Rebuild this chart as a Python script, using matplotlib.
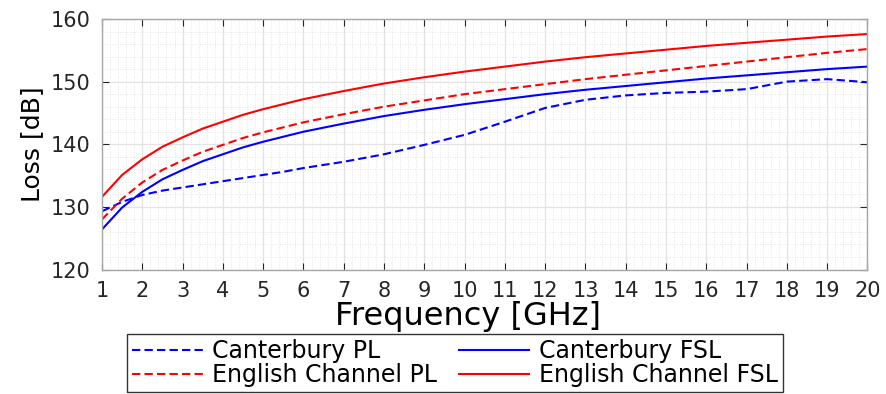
import matplotlib
matplotlib.use("Agg")
import matplotlib.pyplot as plt
from matplotlib.ticker import MultipleLocator

# frequencies in GHz
freq = [1, 1.5, 2, 2.5, 3, 3.5, 4, 4.5, 5, 5.5, 6, 7, 8, 9, 10,
        11, 12, 13, 14, 15, 16, 17, 18, 19, 20]

# losses in dB
canterbury_pl = [129.3, 130.8, 131.9, 132.6, 133.1, 133.6, 134.1, 134.6, 135.1,
                 135.6, 136.2, 137.2, 138.4, 139.9, 141.5, 143.6, 145.8, 147.1,
                 147.8, 148.2, 148.4, 148.8, 150.0, 150.4, 149.9]
canterbury_fsl = [126.4, 129.9, 132.4, 134.4, 135.9, 137.3, 138.4, 139.5, 140.4,
                  141.2, 142.0, 143.3, 144.5, 145.5, 146.4, 147.2, 148.0, 148.7,
                  149.3, 149.9, 150.5, 151.0, 151.5, 152.0, 152.4]
channel_pl = [128.0, 131.3, 133.9, 135.9, 137.4, 138.8, 139.9, 141.0, 141.9,
              142.7, 143.5, 144.8, 146.0, 147.0, 148.0, 148.8, 149.6, 150.4,
              151.1, 151.8, 152.5, 153.2, 153.9, 154.6, 155.2]
channel_fsl = [131.6, 135.1, 137.6, 139.6, 141.1, 142.5, 143.6, 144.7, 145.6,
               146.4, 147.2, 148.5, 149.7, 150.7, 151.6, 152.4, 153.2, 153.9,
               154.5, 155.1, 155.7, 156.2, 156.7, 157.2, 157.6]

labels = ["Canterbury PL", "English Channel PL",
          "Canterbury FSL", "English Channel FSL"]

plt.rcParams["font.family"] = ["DejaVu Sans"]

fig = plt.figure(figsize=(8.87, 3.94), dpi=100)
ax = fig.add_axes([102 / 887, 1 - 269.5 / 394, 765.5 / 887, 250.5 / 394])

dash = (4, 2)
l1, = ax.plot(freq, canterbury_pl, color="#0000ff", lw=1.5, dashes=dash)
l2, = ax.plot(freq, channel_pl, color="#ff0000", lw=1.5, dashes=dash)
l3, = ax.plot(freq, canterbury_fsl, color="#0000ff", lw=1.5)
l4, = ax.plot(freq, channel_fsl, color="#ff0000", lw=1.5)

ax.set_xlim(1, 20)
ax.set_ylim(120, 160)
ax.xaxis.set_major_locator(MultipleLocator(1))
ax.xaxis.set_minor_locator(MultipleLocator(0.2))
ax.yaxis.set_major_locator(MultipleLocator(10))
ax.yaxis.set_minor_locator(MultipleLocator(2))

ax.grid(which="major", color="#e3e3e3", lw=0.9)
ax.grid(which="minor", color="#dcdcdc", lw=0.6, ls=(0, (1, 2)))
ax.set_axisbelow(True)

for sp in ax.spines.values():
    sp.set_color("#a6a6a6")
    sp.set_linewidth(1.0)

ax.tick_params(which="both", direction="in", top=True, right=True,
               colors="#262626", labelcolor="#262626")
ax.tick_params(which="major", length=5, width=0.8, labelsize=15, pad=8)
ax.tick_params(which="minor", length=0)

ax.set_xlabel("Frequency [GHz]", fontsize=23, color="black")
ax.xaxis.set_label_coords((468 - 102) / 765.5, -0.125)
ax.set_ylabel("Loss [dB]", fontsize=18, color="black", labelpad=5)

leg = fig.legend([l1, l2, l3, l4], labels, ncol=2, loc="lower center",
                 bbox_to_anchor=(455 / 887, 0.0), fontsize=17,
                 frameon=True, fancybox=False, edgecolor="black",
                 handlelength=3.0, handletextpad=0.4, columnspacing=0.9,
                 labelspacing=0.0, borderpad=0.2, borderaxespad=0.1)
leg.get_frame().set_linewidth(1.0)

fig.savefig("out.png", dpi=100)
